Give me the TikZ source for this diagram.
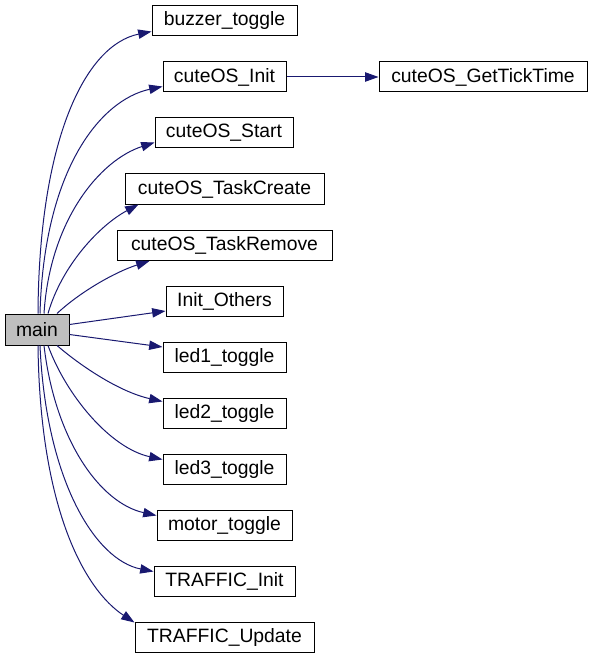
\documentclass[tikz,border=0pt]{standalone}
\usepackage{fontspec}
\setmainfont{Liberation Sans}
\usetikzlibrary{arrows.meta,calc}
\definecolor{edgeblue}{RGB}{25,25,112}
\definecolor{maingray}{RGB}{191,191,191}
\begin{document}
\begin{tikzpicture}[x=0.75pt,y=-0.75pt,
  fn/.style={draw=black, line width=0.75pt, minimum height=22.5pt, inner sep=0pt, font=\fontsize{14.5}{16}\selectfont, fill=white},
  edge/.style={draw=edgeblue, line width=0.75pt, -{Triangle[length=10pt,width=7pt]}, fill=none}]
\useasboundingbox (0,0) rectangle (593,659);
\node[fn, minimum width=48pt, minimum height=23.25pt, fill=maingray] (main) at (37,329.5) {main};
\node[fn, minimum width=108.75pt] (bz) at (224.5,21) {buzzer\_toggle};
\node[fn, minimum width=92.25pt] (init) at (224.5,77) {cuteOS\_Init};
\node[fn, minimum width=156pt] (tick) at (483,77) {cuteOS\_GetTickTime};
\node[fn, minimum width=103.5pt] (start) at (224,133) {cuteOS\_Start};
\node[fn, minimum width=149.25pt] (tcreate) at (224.5,189) {cuteOS\_TaskCreate};
\node[fn, minimum width=161.25pt] (tremove) at (224.5,245.5) {cuteOS\_TaskRemove};
\node[fn, minimum width=87.75pt] (others) at (224.5,301.5) {Init\_Others};
\node[fn, minimum width=92.25pt] (led1) at (224.5,357.5) {led1\_toggle};
\node[fn, minimum width=92.25pt] (led2) at (224.5,413) {led2\_toggle};
\node[fn, minimum width=92.25pt] (led3) at (224.5,469) {led3\_toggle};
\node[fn, minimum width=101.25pt] (motor) at (224.5,525) {motor\_toggle};
\node[fn, minimum width=105.75pt] (tinit) at (224.5,581) {TRAFFIC\_Init};
\node[fn, minimum width=134.25pt] (tupd) at (224.5,637) {TRAFFIC\_Update};

\draw[edge] ($(main.north)+(1,0)$) .. controls (39,140) and (85,45) .. ($(bz.south west)+(0,-5)$);
\draw[edge] ($(main.north)+(3,0)$) .. controls (44,170) and (100,100) .. ($(init.south west)+(0,-6)$);
\draw[edge] ($(main.north)+(7,0)$) .. controls (50,220) and (100,160) .. ($(start.south west)+(0,-6)$);
\draw[edge] ($(main.north)+(11,0)$) .. controls (62,265) and (100,225) .. ($(tcreate.south west)+(14,0)$);
\draw[edge] ($(main.north)+(20,0)$) .. controls (80,292) and (115,272) .. ($(tremove.south west)+(33,0)$);
\draw[edge] ($(main.east)+(0,-5)$) -- ($(others.south west)+(0,-6)$);
\draw[edge] ($(main.east)+(0,5)$) -- ($(led1.north west)+(0,5)$);
\draw[edge] ($(main.south)+(20,0)$) .. controls (82,367) and (120,392) .. ($(led2.north west)+(0,4)$);
\draw[edge] ($(main.south)+(11,0)$) .. controls (66,395) and (110,448) .. ($(led3.north west)+(0,6)$);
\draw[edge] ($(main.south)+(7,0)$) .. controls (55,440) and (100,503) .. ($(motor.north west)+(0,6)$);
\draw[edge] ($(main.south)+(3,0)$) .. controls (46,480) and (95,560) .. ($(tinit.north west)+(0,6)$);
\draw[edge] ($(main.south)+(1,0)$) .. controls (40,510) and (85,590) .. ($(tupd.north west)+(0,1)$);
\draw[edge] (init) -- (tick);
\end{tikzpicture}
\end{document}
